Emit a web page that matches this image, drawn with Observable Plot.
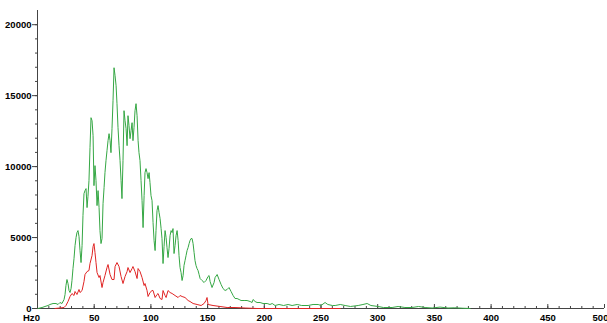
<!DOCTYPE html>
<html><head><meta charset="utf-8">
<script src="https://cdn.jsdelivr.net/npm/d3@7"></script>
<script src="https://cdn.jsdelivr.net/npm/@observablehq/plot@0.6"></script>
<style>body{margin:0;background:#fff;overflow:hidden}</style>
</head><body><div id="chart"></div>
<script>
const greenHz = [0.4,4.0,6.6,9.3,11.0,13.7,16.3,18.1,19.8,21.6,23.4,24.3,25.1,26.0,26.9,27.8,28.7,29.6,30.4,31.3,32.2,33.1,34.0,34.8,35.7,36.6,37.5,38.4,39.3,40.1,41.0,41.9,42.8,43.7,44.5,45.4,46.3,47.2,48.1,49.0,49.8,50.7,51.6,52.5,53.4,54.3,55.1,56.0,56.9,57.8,58.7,59.5,60.4,61.3,62.2,63.1,64.0,64.8,65.7,66.6,67.5,68.4,69.3,70.1,71.0,71.9,72.8,73.7,74.5,75.4,76.3,77.2,78.1,79.0,79.8,80.7,81.6,82.5,83.4,84.2,85.1,86.0,86.9,87.8,88.7,89.5,90.4,91.3,92.2,93.1,94.0,94.8,95.7,96.6,97.5,98.4,99.2,100.1,101.0,101.9,102.8,103.7,104.5,105.4,106.3,107.2,108.1,109.0,109.8,110.7,111.6,112.5,113.4,114.2,115.1,116.0,116.9,117.8,118.7,119.5,120.4,121.3,122.2,123.1,124.0,124.8,125.7,126.6,127.5,128.4,129.2,130.1,131.0,131.9,132.8,133.7,134.5,135.4,136.3,137.2,138.1,138.9,139.8,140.7,141.6,142.5,143.4,145.1,146.9,148.6,150.4,151.3,152.2,153.9,155.7,156.6,158.4,160.1,161.9,163.6,165.4,167.2,168.9,170.7,172.5,174.2,176.0,177.8,179.5,182.2,184.8,187.5,189.2,190.1,191.9,193.6,196.3,198.9,202.5,205,207,209.5,213,217,221,224.5,229,233,238.6,243,247.5,250,253.6,256,260,262.5,267,271.3,276,282.8,287,290.7,294,300.4,305,312.7,318,324,330.4,336,341.8,348,355,362,368,375,381.5];
const greenAmp = [0,70,141,211,282,352,352,282,422,352,634,986,1619,2042,1760,1267,1126,1408,1971,2816,3520,4435,4998,5350,5491,5069,4083,3238,4435,6547,8096,8307,8448,7110,7885,9011,11334,13446,13235,12179,8659,10067,9011,7251,8307,7110,5491,4576,4928,7392,8518,9574,10419,11123,11827,12320,11827,10982,12672,14643,16966,16403,15699,14432,12742,11475,10419,9011,7744,10419,13939,13235,12672,11475,13587,12883,11968,12531,13094,11827,12742,13939,14432,13587,11827,10982,10419,9011,7603,5702,7955,9574,9856,9574,9152,9574,8870,7955,7603,6054,4787,4083,5491,6899,7251,6758,6336,5632,4928,3168,4365,5491,4998,4294,3590,4224,5139,5491,5350,5632,3872,4435,5139,5491,4787,3731,2886,2534,1971,2323,3027,3379,3731,4083,4294,4576,4787,4928,4928,4576,3942,3379,3027,2816,2675,2394,2112,1971,1830,1971,2253,2323,1901,1478,1830,2182,2394,2042,1690,1408,1267,1338,1478,1197,915,704,704,634,563,563,563,493,422,634,493,422,422,352,352,282,352,211,282,211,282,211,282,211,211,282,282,211,422,282,211,211,282,211,141,211,282,352,211,141,70,70,141,70,70,141,70,35,100,35,50,20,0];
const redHz = [15.4,19.8,23.4,25.1,26.9,28.7,30.4,32.2,33.1,34.8,36.6,37.5,39.3,41.0,41.9,43.7,45.4,46.3,48.1,49.0,49.8,50.7,51.6,52.5,54.3,55.1,56.9,57.8,59.5,61.3,62.2,64.0,65.7,67.5,68.4,70.1,71.9,73.7,75.4,77.2,79.0,79.8,81.6,83.4,84.2,86.0,87.8,88.7,90.4,92.2,94.0,94.8,96.6,97.5,99.2,101.0,101.9,103.7,105.4,106.3,108.1,109.8,110.7,112.5,113.4,115.1,116.9,118.7,121.3,124.0,125.7,127.5,130.1,132.8,134.5,137.2,140.7,144.3,146.9,148.6,149.5,150.4,154.8,161.0,167.2,174.2,183.1,193.6,267];
const redAmp = [0,35,70,211,493,845,1056,915,1197,986,1338,1126,1267,1901,2394,2605,2675,3168,3731,4365,4576,3942,3238,2534,2182,2323,1478,1830,2323,2886,3098,2394,2042,2042,2957,3238,2957,2253,1760,2253,2605,2886,2534,2816,2957,2605,2112,2816,2605,2182,1619,1760,1267,845,1126,1267,1267,774,986,1056,704,634,1267,915,774,1267,1126,1056,915,774,915,845,774,563,493,352,282,211,352,563,774,282,211,141,70,70,35,0,0];
const yMajor = [0,5000,10000,15000,20000];
const yMinor = d3.range(0,21000,1000);
const xMajor = [0,50,100,150,200,250,300,350,400,450];
const xLast = [500];
const xMinor = d3.range(0,501,10);

const green = greenHz.map((f,i)=>({f, a: greenAmp[i]}));
const red = redHz.map((f,i)=>({f, a: redAmp[i]}));

const chart = Plot.plot({
  width: 607, height: 323,
  marginLeft: 37, marginRight: 3, marginTop: 10, marginBottom: 15,
  style: {fontFamily: "'Liberation Sans', Arial, sans-serif", fontSize: "9.5px", fontWeight: "bold", background: "#fff", color: "#000"},
  x: {domain: [0,500], label: null},
  y: {domain: [0,21000], label: null},
  marks: [
    Plot.axisY({ticks: yMinor, tickSize: 2, tickFormat: () => "", stroke: "#444", label: null}),
    Plot.axisY({ticks: yMajor, tickSize: 5, tickPadding: 1, tickFormat: d => String(d), stroke: "#444", label: null}),
    Plot.axisX({ticks: xMajor, tickSize: 0, tickPadding: 6, tickFormat: d => String(d), label: null}),
    Plot.axisX({ticks: xLast, tickSize: 0, tickPadding: 6, tickFormat: d => String(d), label: null, dx: -4}),
    Plot.tickX(xMinor, {x: d => d, insetTop: 296, stroke: "#444"}),
    Plot.tickX(xMajor.concat(xLast), {x: d => d, insetTop: 294, stroke: "#444"}),
    Plot.ruleX([0], {stroke: "#444"}),
    Plot.ruleY([0], {stroke: "#444"}),
    Plot.text(["Hz"], {frameAnchor: "bottom-left", textAnchor: "end", lineAnchor: "top", dx: -3, dy: 6}),
    Plot.line(green, {x: "f", y: "a", stroke: "#35a744", strokeWidth: 1}),
    Plot.line(red, {x: "f", y: "a", stroke: "#e02424", strokeWidth: 1})
  ]
});
document.getElementById("chart").append(chart);
</script>
</body></html>
